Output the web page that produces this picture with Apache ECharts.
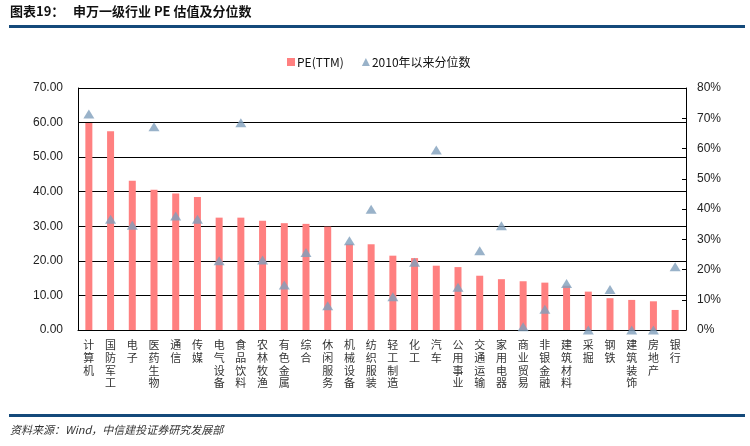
<!DOCTYPE html>
<html>
<head>
<meta charset="utf-8">
<script src="https://cdn.jsdelivr.net/npm/echarts@6/dist/echarts.min.js"></script>
<style>
html,body{margin:0;padding:0;background:#fff;}
#chart{width:750px;height:446px;}
</style>
</head>
<body>
<div id="chart"></div>
<script>
const categories = ['计算机','国防军工','电子','医药生物','通信','传媒','电气设备','食品饮料','农林牧渔','有色金属','综合','休闲服务','机械设备','纺织服装','轻工制造','化工','汽车','公用事业','交通运输','家用电器','商业贸易','非银金融','建筑材料','采掘','钢铁','建筑装饰','房地产','银行'];
const peTTM = [59.9, 57.5, 43.2, 40.6, 39.5, 38.5, 32.5, 32.5, 31.6, 30.9, 30.7, 29.9, 24.9, 24.8, 21.5, 20.8, 18.6, 18.2, 15.7, 14.7, 14.1, 13.7, 12.8, 11.1, 9.2, 8.7, 8.3, 5.8];
const percentile = [0.714, 0.366, 0.346, 0.672, 0.377, 0.366, 0.229, 0.685, 0.231, 0.149, 0.256, 0.080, 0.295, 0.399, 0.110, 0.224, 0.595, 0.141, 0.262, 0.345, 0.011, 0.069, 0.154, 0.0, 0.134, 0.0, 0.0, 0.209];
const leftTicks = {min: 0, max: 70, interval: 10};
const rightTicks = {min: 0, max: 0.8, interval: 0.1};
const titleText = '图表19：';
const titleMain = '申万一级行业 PE 估值及分位数';
const sourceText = '资料来源：Wind，中信建投证券研究发展部';

const chart = echarts.init(document.getElementById('chart'), null, {renderer: 'canvas'});
const cjk = '"Noto Sans CJK SC", "Liberation Sans", sans-serif';
const num = '"Liberation Sans", Arial, sans-serif';

chart.setOption({
  animation: false,
  backgroundColor: '#fff',
  graphic: [
    {type: 'text', left: 10, top: 5, style: {text: titleText, font: 'bold 13px ' + cjk, fill: '#111'}},
    {type: 'text', left: 73, top: 5, style: {text: titleMain, font: 'bold 13px ' + cjk, fill: '#111'}},
    {type: 'rect', shape: {x: 9, y: 25, width: 736, height: 3}, style: {fill: '#14497A'}},
    {type: 'rect', shape: {x: 9, y: 414, width: 736, height: 3}, style: {fill: '#14497A'}},
    {type: 'text', left: 10, top: 424, style: {text: sourceText, font: 'italic 11px ' + cjk, fill: '#333'}}
  ],
  legend: {
    top: 51,
    left: 282,
    itemGap: 18,
    itemWidth: 8,
    itemHeight: 8,
    textStyle: {fontFamily: cjk, fontSize: 12, color: '#111', padding: [0, 0, 0, -3]},
    data: [
      {name: 'PE(TTM)', icon: 'rect'},
      {name: '2010年以来分位数', icon: 'triangle'}
    ]
  },
  grid: {left: 78, right: 64, top: 88, bottom: 116, containLabel: false},
  xAxis: {
    type: 'category',
    data: categories,
    axisLine: {lineStyle: {color: '#000', width: 1}},
    axisTick: {show: false},
    axisLabel: {
      interval: 0,
      margin: 9,
      fontFamily: cjk,
      fontSize: 11,
      lineHeight: 12.6,
      color: '#333',
      verticalAlign: 'top',
      formatter: v => v.split('').join('\n')
    }
  },
  yAxis: [
    {
      type: 'value',
      min: leftTicks.min, max: leftTicks.max, interval: leftTicks.interval,
      axisLine: {show: true, lineStyle: {color: '#000'}},
      axisTick: {show: false},
      splitLine: {show: true, lineStyle: {color: '#000', width: 1}},
      axisLabel: {margin: 15, fontFamily: num, fontSize: 12, color: '#222', formatter: v => v.toFixed(2)}
    },
    {
      type: 'value',
      min: rightTicks.min, max: rightTicks.max, interval: rightTicks.interval,
      axisLine: {show: true, lineStyle: {color: '#000'}},
      axisTick: {show: true, inside: true, length: 4, lineStyle: {color: '#000'}},
      splitLine: {show: false},
      axisLabel: {margin: 11, fontFamily: num, fontSize: 12, color: '#222', formatter: v => Math.round(v * 100) + '%'}
    }
  ],
  series: [
    {
      name: 'PE(TTM)',
      type: 'bar',
      yAxisIndex: 0,
      data: peTTM,
      barWidth: 7,
      itemStyle: {color: '#FF8080'}
    },
    {
      name: '2010年以来分位数',
      type: 'scatter',
      yAxisIndex: 1,
      data: percentile,
      symbol: 'triangle',
      symbolSize: [11, 9],
      clip: false,
      z: 5,
      itemStyle: {color: '#7F9FBC'}
    }
  ]
});
</script>
</body>
</html>
